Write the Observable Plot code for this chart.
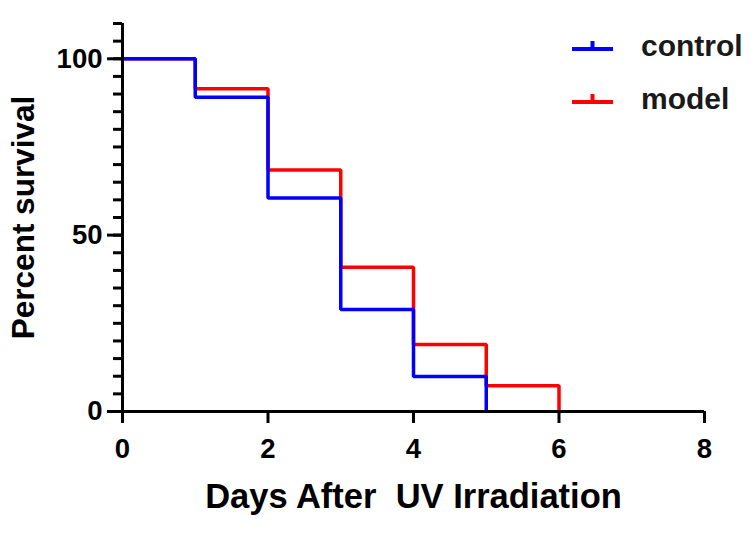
<!DOCTYPE html>
<html>
<head>
<meta charset="utf-8">
<script src="https://cdn.jsdelivr.net/npm/d3@7"></script>
<script src="https://cdn.jsdelivr.net/npm/@observablehq/plot@0.6"></script>
<style>
  html, body { margin: 0; padding: 0; background: white; }
  #wrap { position: relative; width: 755px; height: 534px; font-family: "Liberation Sans", Arial, sans-serif; }
  #legend { position: absolute; left: 0; top: 0; }
</style>
</head>
<body>
<div id="wrap"></div>
<script>
// ---- data ----
const days = [0, 1, 2, 3, 4, 5, 6];
const controlSurvival = [100, 89.1, 60.5, 28.9, 9.9, 0];
const modelSurvival = [100, 91.5, 68.5, 40.9, 19.0, 7.3, 0];
const seriesNames = ["control", "model"];
const seriesColors = ["#0000ff", "#ff0000"];
const xTicks = [0, 2, 4, 6, 8];
const yTicks = [0, 50, 100];
const yMinorTicks = [0, 5, 10, 15, 20, 25, 30, 35, 40, 45, 50, 55, 60, 65, 70, 75, 80, 85, 90, 95, 100, 105, 110];
const xTitle = "Days After\u00a0 UV Irradiation";
const yTitle = "Percent survival";

const controlRows = controlSurvival.map((s, i) => ({day: days[i], survival: s, group: seriesNames[0]}));
const modelRows = modelSurvival.map((s, i) => ({day: days[i], survival: s, group: seriesNames[1]}));

const font = "'Liberation Sans', Arial, sans-serif";

const chart = Plot.plot({
  width: 755,
  height: 534,
  marginLeft: 122,
  marginRight: 51,
  marginTop: 23,
  marginBottom: 123,
  style: {fontFamily: font, color: "black", background: "white", overflow: "visible"},
  x: {domain: [0, 8]},
  y: {domain: [0, 110]},
  marks: [
    Plot.line(modelRows, {x: "day", y: "survival", curve: "step-after", stroke: seriesColors[1], strokeWidth: 3.5, strokeLinejoin: "miter"}),
    Plot.line(controlRows, {x: "day", y: "survival", curve: "step-after", stroke: seriesColors[0], strokeWidth: 3.5, strokeLinejoin: "miter"}),
    Plot.axisY({ticks: yMinorTicks, tickSize: 9, tickFormat: () => "", strokeWidth: 3, label: null}),
    Plot.axisY({ticks: yTicks, tickSize: 15, tickPadding: 5, fontSize: 27.5, fontWeight: "bold", strokeWidth: 3, label: null}),
    Plot.axisX({ticks: xTicks, tickSize: 12, tickPadding: 15, fontSize: 27.5, fontWeight: "bold", strokeWidth: 3, label: null}),
    Plot.ruleX([0], {strokeWidth: 3}),
    Plot.ruleY([0], {strokeWidth: 3}),
    Plot.text([xTitle], {text: d => d, frameAnchor: "bottom", dy: 96, fontSize: 34.5, fontWeight: "bold"}),
    Plot.text([yTitle], {text: d => d, frameAnchor: "left", textAnchor: "middle", dx: -99, rotate: -90, fontSize: 31.5, fontWeight: "bold"})
  ]
});

const wrap = document.getElementById("wrap");
wrap.appendChild(chart);

// legend overlay
const ns = "http://www.w3.org/2000/svg";
const leg = document.createElementNS(ns, "svg");
leg.setAttribute("id", "legend");
leg.setAttribute("width", 755);
leg.setAttribute("height", 534);
leg.style.pointerEvents = "none";
seriesNames.forEach((name, i) => {
  const y = 49 + i * 53;
  const g = document.createElementNS(ns, "g");
  const l = document.createElementNS(ns, "path");
  l.setAttribute("d", `M572,${y}H613M592.5,${y}V${y - 8}`);
  l.setAttribute("stroke", seriesColors[i]);
  l.setAttribute("stroke-width", 4);
  l.setAttribute("fill", "none");
  g.appendChild(l);
  const t = document.createElementNS(ns, "text");
  t.setAttribute("x", 641);
  t.setAttribute("y", y + 7);
  t.setAttribute("font-size", 30);
  t.setAttribute("font-weight", "bold");
  t.setAttribute("font-family", font);
  t.setAttribute("fill", "#1a1a1a");
  t.textContent = name;
  g.appendChild(t);
  leg.appendChild(g);
});
wrap.appendChild(leg);
</script>
</body>
</html>
